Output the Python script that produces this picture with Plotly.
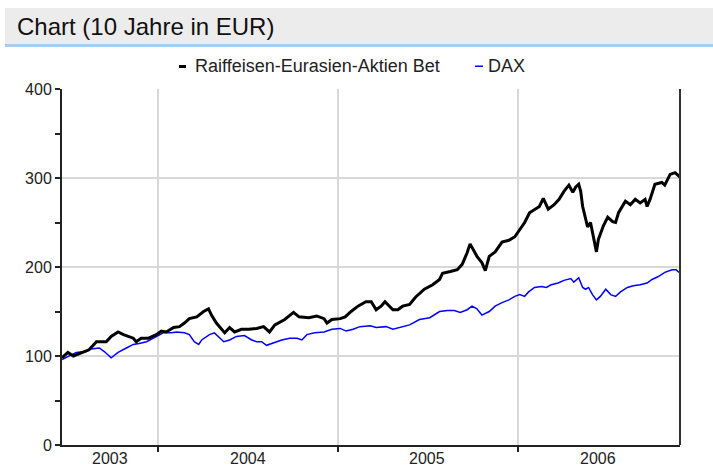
import plotly.graph_objects as go

fund_name = "Raiffeisen-Eurasien-Aktien Bet"
dax_name = "DAX"

fund_dates = [
    "2003-06-19", "2003-07-01", "2003-07-12", "2003-08-01", "2003-08-13", "2003-08-28",
    "2003-09-17", "2003-09-27", "2003-10-11", "2003-10-22", "2003-11-01", "2003-11-11",
    "2003-11-17", "2003-11-27", "2003-12-12", "2003-12-28", "2004-01-07", "2004-01-17",
    "2004-02-01", "2004-02-13", "2004-02-23", "2004-03-04", "2004-03-19", "2004-04-02",
    "2004-04-12", "2004-04-18", "2004-04-28", "2004-05-09", "2004-05-15", "2004-05-25",
    "2004-06-04", "2004-06-18", "2004-07-03", "2004-07-19", "2004-08-02", "2004-08-14",
    "2004-08-25", "2004-09-14", "2004-10-02", "2004-10-13", "2004-11-02", "2004-11-18",
    "2004-12-03", "2004-12-09", "2004-12-19", "2005-01-05", "2005-01-15", "2005-01-27",
    "2005-02-10", "2005-02-26", "2005-03-09", "2005-03-19", "2005-03-29", "2005-04-06",
    "2005-04-16", "2005-04-22", "2005-05-02", "2005-05-12", "2005-05-26", "2005-06-07",
    "2005-06-25", "2005-07-12", "2005-07-26", "2005-08-01", "2005-08-17", "2005-08-31",
    "2005-09-10", "2005-09-20", "2005-09-26", "2005-10-04", "2005-10-10", "2005-10-20",
    "2005-10-27", "2005-11-04", "2005-11-16", "2005-11-30", "2005-12-14", "2005-12-26",
    "2006-01-05", "2006-01-15", "2006-01-25", "2006-02-04", "2006-02-14", "2006-02-22",
    "2006-03-04", "2006-03-16", "2006-03-26", "2006-04-05", "2006-04-15", "2006-04-23",
    "2006-04-29", "2006-05-05", "2006-05-09", "2006-05-13", "2006-05-19", "2006-05-23",
    "2006-05-29", "2006-06-04", "2006-06-10", "2006-06-14", "2006-06-24", "2006-07-03",
    "2006-07-13", "2006-07-19", "2006-07-25", "2006-08-08", "2006-08-18", "2006-08-28",
    "2006-09-07", "2006-09-17", "2006-09-21", "2006-09-27", "2006-10-07", "2006-10-21",
    "2006-10-27", "2006-11-07", "2006-11-17", "2006-11-27",
]
fund_values = [
    98, 104, 100, 104, 107, 116,
    116, 122, 127, 124, 122, 120,
    116, 120, 120, 124, 128, 127,
    132, 133, 137, 142, 144, 150,
    153, 146, 137, 130, 126, 132,
    127, 130, 130, 131, 133, 127,
    135, 141, 149, 144, 143, 145,
    142, 137, 141, 142, 144, 150,
    156, 161, 161, 152, 156, 161,
    156, 152, 152, 156, 158, 166,
    175, 180, 186, 193, 195, 197,
    203, 216, 226, 217, 212, 205,
    196, 212, 217, 228, 230, 234,
    242, 250, 261, 265, 268, 277,
    265, 270, 276, 285, 292, 284,
    290, 293, 285, 268, 256, 245,
    250, 233, 217, 231, 246, 256,
    251, 250, 261, 274, 270, 276,
    272, 276, 268, 276, 293, 295,
    292, 304, 306, 301,
]

dax_dates = [
    "2003-06-19", "2003-07-01", "2003-07-18", "2003-08-07", "2003-08-17", "2003-09-03",
    "2003-09-13", "2003-09-27", "2003-10-11", "2003-10-28", "2003-11-11", "2003-11-23",
    "2003-12-08", "2003-12-22", "2004-01-11", "2004-01-28", "2004-02-07", "2004-02-23",
    "2004-03-04", "2004-03-14", "2004-03-23", "2004-03-29", "2004-04-14", "2004-04-24",
    "2004-05-02", "2004-05-13", "2004-05-25", "2004-06-08", "2004-06-24", "2004-07-09",
    "2004-07-19", "2004-07-29", "2004-08-08", "2004-08-23", "2004-09-08", "2004-09-24",
    "2004-10-09", "2004-10-19", "2004-10-29", "2004-11-14", "2004-12-03", "2004-12-19",
    "2005-01-05", "2005-01-17", "2005-01-31", "2005-02-14", "2005-03-07", "2005-03-19",
    "2005-04-08", "2005-04-22", "2005-05-06", "2005-05-26", "2005-06-15", "2005-07-06",
    "2005-07-26", "2005-08-11", "2005-08-25", "2005-09-06", "2005-09-20", "2005-09-30",
    "2005-10-10", "2005-10-20", "2005-11-04", "2005-11-16", "2005-11-30", "2005-12-14",
    "2005-12-26", "2006-01-05", "2006-01-15", "2006-01-23", "2006-02-04", "2006-02-18",
    "2006-02-28", "2006-03-10", "2006-03-24", "2006-04-05", "2006-04-19", "2006-04-25",
    "2006-05-05", "2006-05-13", "2006-05-19", "2006-05-25", "2006-06-02", "2006-06-10",
    "2006-06-18", "2006-06-29", "2006-07-09", "2006-07-19", "2006-07-29", "2006-08-12",
    "2006-08-24", "2006-09-07", "2006-09-21", "2006-10-01", "2006-10-13", "2006-10-27",
    "2006-11-11", "2006-11-19", "2006-11-25",
]
dax_values = [
    96, 99, 104, 105, 108, 109,
    105, 98, 104, 109, 113, 114,
    116, 120, 126, 126, 127, 126,
    124, 116, 113, 118, 124, 126,
    122, 116, 118, 122, 123, 118,
    116, 116, 112, 115, 118, 120,
    120, 118, 124, 126, 127, 130,
    131, 128, 130, 133, 134, 132,
    133, 130, 132, 135, 141, 143,
    150, 151, 151, 149, 152, 156,
    153, 146, 150, 156, 160, 163,
    167, 169, 167, 172, 177, 178,
    177, 180, 182, 185, 187, 183,
    188, 177, 175, 177, 169, 163,
    167, 175, 169, 167, 172, 177,
    179, 180, 182, 186, 189, 194,
    197, 197, 194,
]

year_labels = ["2003", "2004", "2005", "2006"]
year_label_dates = ["2003-09-25", "2004-07-01", "2005-07-01", "2006-06-14"]
x_range = ["2003-06-19", "2006-11-27"]

FONT = "Arial, Liberation Sans, sans-serif"

fig = go.Figure()
fig.add_trace(go.Scatter(x=dax_dates, y=dax_values, mode="lines", name=dax_name,
                         line=dict(color="#0000ff", width=1.5), showlegend=False,
                         hoverinfo="skip"))
fig.add_trace(go.Scatter(x=fund_dates, y=fund_values, mode="lines", name=fund_name,
                         line=dict(color="#000000", width=3), showlegend=False,
                         hoverinfo="skip"))

W, H = 713, 466
L, R, T, B = 62, 33, 89, 21
pw, ph = W - L - R, H - T - B


def px(x):
    return (x - L) / pw


def py(y):
    return (H - B - y) / ph


annotations = [
    dict(text="Chart (10 Jahre in EUR)", xref="paper", yref="paper",
         x=px(15), y=py(27), xanchor="left", yanchor="middle", showarrow=False,
         font=dict(size=24, color="#111111", family=FONT)),
    dict(text=fund_name, xref="paper", yref="paper",
         x=px(193), y=py(66), xanchor="left", yanchor="middle", showarrow=False,
         font=dict(size=18, color="#222222", family=FONT)),
    dict(text=dax_name, xref="paper", yref="paper",
         x=px(486), y=py(66), xanchor="left", yanchor="middle", showarrow=False,
         font=dict(size=18, color="#222222", family=FONT)),
]
for d, lab in zip(year_label_dates, year_labels):
    annotations.append(dict(text=lab, x=d, xref="x", y=0, yref="paper",
                            xanchor="center", yanchor="top", yshift=-3,
                            showarrow=False,
                            font=dict(size=16, color="#222222", family=FONT)))

fig.update_layout(
    width=W, height=H,
    margin=dict(l=L, r=R, t=T, b=B, autoexpand=False),
    paper_bgcolor="white", plot_bgcolor="white",
    font=dict(family=FONT, size=16, color="#222222"),
    hovermode=False,
    xaxis=dict(
        type="date", range=x_range,
        tickvals=year_label_dates, ticktext=year_labels,
        ticks="", showgrid=False, showticklabels=False,
        showline=True, linecolor="#222222", linewidth=2,
        minor=dict(tick0="2004-01-01", dtick="M12", ticks="outside", ticklen=5,
                   tickwidth=2, tickcolor="#222222",
                   showgrid=True, gridcolor="#d8d8d8", gridwidth=2),
        zeroline=False, fixedrange=True,
    ),
    yaxis=dict(
        range=[0, 400], dtick=100, tick0=0,
        ticks="outside", ticklen=5, tickwidth=2, tickcolor="#222222",
        showgrid=True, gridcolor="#d8d8d8", gridwidth=2,
        showline=True, linecolor="#222222", linewidth=2,
        tickfont=dict(size=16, color="#222222"),
        minor=dict(dtick=50, ticks="outside", ticklen=5, tickwidth=2,
                   tickcolor="#222222", showgrid=False),
        zeroline=False, fixedrange=True,
    ),
    shapes=[
        dict(type="rect", xref="paper", yref="paper",
             x0=px(5), x1=px(713), y0=py(44), y1=py(8),
             fillcolor="#ececec", line=dict(width=0), layer="below"),
        dict(type="rect", xref="paper", yref="paper",
             x0=px(5), x1=px(713), y0=py(47), y1=py(44),
             fillcolor="#a6cdf5", line=dict(width=0), layer="below"),
        dict(type="line", xref="paper", yref="paper",
             x0=1, x1=1, y0=0, y1=1,
             line=dict(color="#333333", width=2)),
        # legend symbols
        dict(type="rect", xref="paper", yref="paper",
             x0=px(179), x1=px(186), y0=py(68), y1=py(65),
             fillcolor="#000000", line=dict(width=0)),
        dict(type="rect", xref="paper", yref="paper",
             x0=px(475), x1=px(483), y0=py(67), y1=py(65.5),
             fillcolor="#0000ff", line=dict(width=0)),
    ],
    annotations=annotations,
)

fig.write_html("out.html", config=dict(displayModeBar=False, staticPlot=True),
               post_script="document.body.style.margin='0';document.body.style.overflow='hidden';")
